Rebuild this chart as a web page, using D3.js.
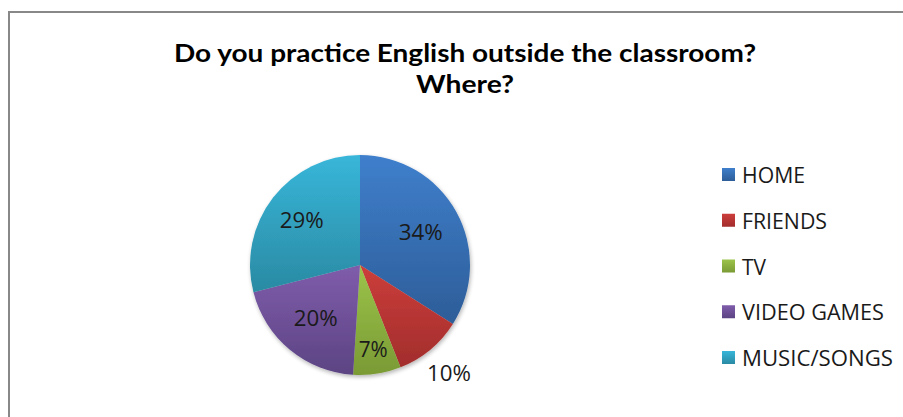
<!DOCTYPE html>
<html><head><meta charset="utf-8">
<script src="https://cdn.jsdelivr.net/npm/d3@7"></script>
<style>html,body{margin:0;padding:0;background:#fff;}svg{display:block;}</style>
</head><body>
<svg id="chart" width="903" height="417"></svg>
<script>
const titleLines = ["Do you practice English outside the classroom?", "Where?"];
const categories = ["HOME", "FRIENDS", "TV", "VIDEO GAMES", "MUSIC/SONGS"];
const values = [34, 10, 7, 20, 29];
const labels = ["34%", "10%", "7%", "20%", "29%"];

const colorsTop = ["#3f7fcc", "#cc3e3b", "#9cc44a", "#7f5cab", "#38b6d9"];
const colorsBot = ["#2d5d98", "#a22d2c", "#7a9a35", "#5c4483", "#2a8aa3"];
const labelRadiusFactor = {"HOME":0.63, "FRIENDS":1.27, "TV":0.77, "VIDEO GAMES":0.63, "MUSIC/SONGS":0.67};
const legendWidths = {"HOME":63, "FRIENDS":85, "TV":24, "VIDEO GAMES":142, "MUSIC/SONGS":151};

const svg = d3.select("#chart");
const defs = svg.append("defs");
categories.forEach((c, i) => {
  const g = defs.append("linearGradient").attr("id", "grad" + i)
    .attr("x1", 0).attr("y1", 0).attr("x2", 0).attr("y2", 1);
  g.append("stop").attr("offset", "0%").attr("stop-color", colorsTop[i]);
  g.append("stop").attr("offset", "100%").attr("stop-color", colorsBot[i]);
});
const sh = defs.append("filter").attr("id", "shadow").attr("x", "-20%").attr("y", "-20%").attr("width", "140%").attr("height", "140%");
sh.append("feGaussianBlur").attr("in", "SourceAlpha").attr("stdDeviation", 2);
sh.append("feOffset").attr("dx", 1).attr("dy", 2).attr("result", "ob");
sh.append("feComponentTransfer").append("feFuncA").attr("type", "linear").attr("slope", 0.3);
const mg = sh.append("feMerge"); mg.append("feMergeNode"); mg.append("feMergeNode").attr("in", "SourceGraphic");

// border
svg.append("rect").attr("x", 9).attr("y", 12).attr("width", 1000).attr("height", 1000)
  .attr("fill", "none").attr("stroke", "#888").attr("stroke-width", 2);

// title
const titleG = svg.append("g").attr("font-family", "Lato, 'Open Sans', sans-serif")
  .attr("font-weight", "bold").attr("font-size", 25).attr("fill", "#000").attr("text-anchor", "middle");
const titleLen = [582, 98];
const titleY = [62, 93];
titleLines.forEach((t, i) => {
  titleG.append("text").attr("x", 465).attr("y", titleY[i])
    .attr("textLength", titleLen[i]).attr("lengthAdjust", "spacingAndGlyphs").text(t);
});

// pie
const cx = 360, cy = 265, R = 110;
const pie = d3.pie().sort(null).value(d => d.v);
const data = categories.map((c, i) => ({c, v: values[i], i}));
const arcs = pie(data);
const arc = d3.arc().innerRadius(0).outerRadius(R);
const pg = svg.append("g").attr("transform", `translate(${cx},${cy})`);
pg.append("g").attr("filter", "url(#shadow)").selectAll("path").data(arcs).join("path")
  .attr("d", arc).attr("fill", d => `url(#grad${d.data.i})`);

pg.selectAll("text.lbl").data(arcs).join("text").attr("class", "lbl")
  .attr("transform", d => {
    const r = R * labelRadiusFactor[d.data.c];
    const a = (d.startAngle + d.endAngle) / 2;
    return `translate(${r * Math.sin(a)},${-r * Math.cos(a)})`;
  })
  .attr("text-anchor", "middle").attr("dy", "0.36em")
  .attr("font-family", "'Open Sans', sans-serif").attr("font-size", 22).attr("fill", "#1a1a1a")
  .attr("textLength", d => labels[d.data.i].length > 2 ? 44 : 29).attr("lengthAdjust", "spacingAndGlyphs")
  .text(d => labels[d.data.i]);

// legend
const lg = svg.append("g");
const ly = d3.scalePoint().domain(categories).range([183, 366]);
categories.forEach((c, i) => {
  const y = ly(c);
  lg.append("rect").attr("x", 722).attr("y", y - 15).attr("width", 13).attr("height", 13)
    .attr("fill", `url(#grad${i})`);
  lg.append("text").attr("x", 742).attr("y", y)
    .attr("font-family", "'Open Sans', sans-serif").attr("font-size", 22).attr("fill", "#1a1a1a")
    .attr("textLength", legendWidths[c]).attr("lengthAdjust", "spacingAndGlyphs").text(c);
});
</script>
</body></html>
